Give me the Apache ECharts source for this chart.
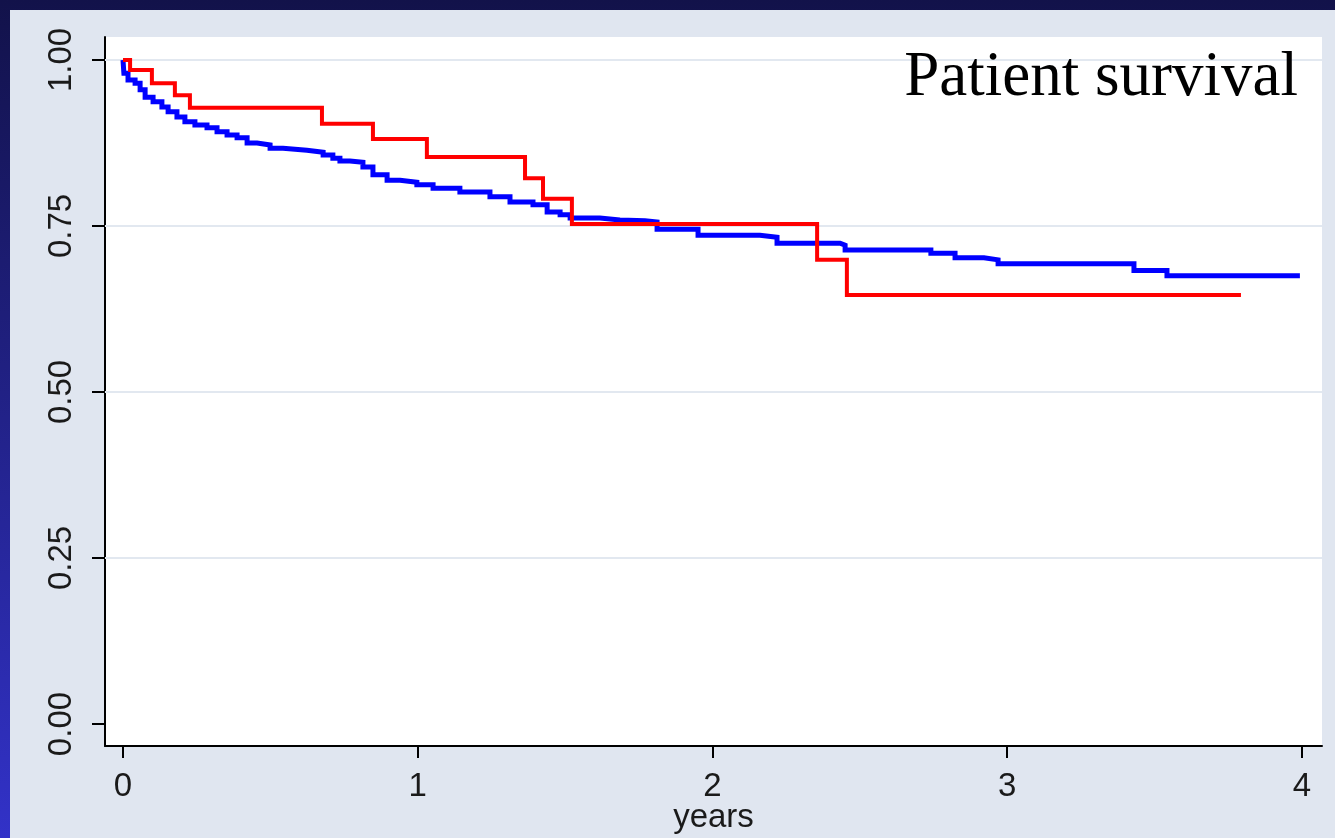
<!DOCTYPE html>
<html>
<head>
<meta charset="utf-8">
<script src="https://cdn.jsdelivr.net/npm/echarts@6.0.0/dist/echarts.min.js"></script>
<style>
    html, body { margin: 0; padding: 0; }
    #bg { position: absolute; left: 0; top: 0; width: 1335px; height: 838px; background: linear-gradient(to bottom, #12124a, #3232c8); }
    #panel { position: absolute; left: 10px; top: 10px; width: 1325px; height: 828px; background: #e0e6f0; }
    #main { position: absolute; left: 0; top: 0; width: 1335px; height: 838px; }
</style>
</head>
<body>
<div id="bg"></div>
<div id="panel"></div>
<div id="main"></div>
<script>
// survival curves (time in years, survival fraction)
var redTimes = [0, 0.024, 0.098, 0.176, 0.227, 0.675, 0.848, 1.031, 1.364, 1.425, 1.523, 2.355, 2.456, 3.793];
var redSurv  = [1.000, 0.985, 0.965, 0.947, 0.928, 0.904, 0.881, 0.854, 0.822, 0.791, 0.753, 0.699, 0.646, 0.646];

var blueTimes = [0, 0.003, 0.017, 0.041, 0.058, 0.075, 0.102, 0.132, 0.153, 0.183, 0.210, 0.244, 0.285, 0.319,
    0.353, 0.387, 0.421, 0.455, 0.499, 0.543, 0.624, 0.679, 0.712, 0.736, 0.770, 0.814, 0.848, 0.896, 0.940,
    0.997, 1.052, 1.143, 1.245, 1.313, 1.391, 1.439, 1.483, 1.517, 1.618, 1.686, 1.771, 1.812, 1.951, 2.161,
    2.219, 2.433, 2.450, 2.741, 2.823, 2.921, 2.969, 3.430, 3.542, 3.993];
var blueSurv = [1.000, 0.980, 0.970, 0.965, 0.955, 0.944, 0.937, 0.929, 0.922, 0.914, 0.907, 0.902, 0.898, 0.892,
    0.887, 0.883, 0.875, 0.872, 0.867, 0.864, 0.861, 0.857, 0.852, 0.848, 0.846, 0.839, 0.827, 0.819, 0.816,
    0.812, 0.807, 0.801, 0.794, 0.786, 0.782, 0.771, 0.767, 0.762, 0.759, 0.758, 0.756, 0.745, 0.736, 0.733,
    0.724, 0.721, 0.714, 0.709, 0.702, 0.699, 0.693, 0.683, 0.675, 0.675];

var xTicks = [0, 1, 2, 3, 4];
var yTicks = [0, 0.25, 0.5, 0.75, 1];
var gridValues = [0.25, 0.5, 0.75, 1];

function pairs(xs, ys) {
    var out = [];
    for (var i = 0; i < xs.length; i++) {
        out.push([xs[i], ys[i]]);
    }
    return out;
}

var labelFont = "'Liberation Sans Narrow', 'Liberation Sans', Arial, sans-serif";

echarts.init(document.getElementById('main')).setOption({
    animation: false,
    backgroundColor: 'transparent',
    title: {
        text: 'Patient survival',
        right: 37,
        top: 47,
        padding: 0,
        textStyle: {
            fontFamily: "'Liberation Serif', 'Times New Roman', serif",
            fontSize: 63,
            fontWeight: 'normal',
            color: '#000'
        }
    },
    grid: {
        left: 105,
        right: 13,
        top: 37,
        bottom: 92,
        outerBoundsMode: 'none',
        containLabel: false,
        show: true,
        backgroundColor: '#ffffff',
        borderWidth: 0
    },
    xAxis: {
        type: 'value',
        min: -0.0611,
        max: 4.068,
        name: 'years',
        nameLocation: 'middle',
        nameGap: 55,
        nameMoveOverlap: false,
        nameTextStyle: { fontFamily: labelFont, fontSize: 33, color: '#1a1a1a' },
        axisLine: { show: true, onZero: false, lineStyle: { color: '#000', width: 2 } },
        axisTick: { show: true, length: 12, customValues: xTicks, lineStyle: { color: '#000', width: 2 } },
        axisLabel: { customValues: xTicks, margin: 24, fontFamily: labelFont, fontSize: 33, color: '#1a1a1a' },
        splitLine: { show: false }
    },
    yAxis: {
        type: 'value',
        min: -0.0331,
        max: 1.0346,
        axisLine: { show: true, onZero: false, lineStyle: { color: '#000', width: 2 } },
        axisTick: { show: true, length: 13, customValues: yTicks, lineStyle: { color: '#000', width: 2 } },
        axisLabel: {
            customValues: yTicks,
            rotate: 90,
            margin: 27,
            fontFamily: labelFont,
            fontSize: 33,
            color: '#1a1a1a',
            formatter: function (v) { return v.toFixed(2); }
        },
        splitLine: { show: false }
    },
    series: [
        {
            name: 'blue',
            type: 'line',
            step: 'end',
            z: 3,
            showSymbol: false,
            data: pairs(blueTimes, blueSurv),
            lineStyle: { color: '#0000ff', width: 5, cap: 'butt', join: 'miter' },
            markLine: {
                silent: true,
                z: 1,
                symbol: ['none', 'none'],
                label: { show: false },
                lineStyle: { color: '#e2e8f0', width: 2, type: 'solid' },
                data: gridValues.map(function (v) { return { yAxis: v }; })
            }
        },
        {
            name: 'red',
            type: 'line',
            step: 'end',
            z: 4,
            showSymbol: false,
            data: pairs(redTimes, redSurv),
            lineStyle: { color: '#ff0000', width: 4, cap: 'butt', join: 'miter' }
        }
    ]
});
</script>
</body>
</html>
